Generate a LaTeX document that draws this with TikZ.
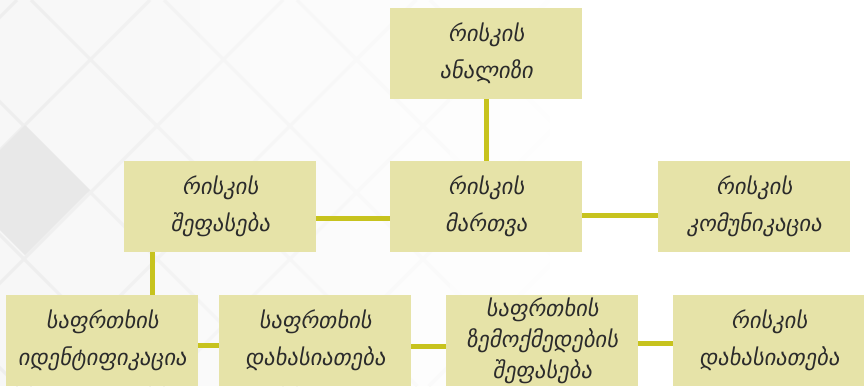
\documentclass[tikz,border=0pt]{standalone}
\usepackage{fontspec}
\newfontfamily\geo[FakeSlant=0.18]{DejaVu Sans}
\definecolor{boxfill}{HTML}{E6E3A8}
\definecolor{conn}{HTML}{C7C31E}
\definecolor{txt}{HTML}{2B2B2B}
\begin{document}
\begin{tikzpicture}[x=1pt,y=-1pt,
  box/.style={rectangle, fill=boxfill, minimum width=192pt, minimum height=91pt,
    inner sep=0pt, align=center, text=txt, font=\geo\fontsize{22.5}{37}\selectfont},
  boxthree/.style={box, font=\geo\fontsize{22.5}{31}\selectfont},
  link/.style={draw=conn, line width=5pt}]
\useasboundingbox (0,0) rectangle (864,386);
\fill[white] (0,0) rectangle (864,386);
% background lattice, fading to the right
\foreach \i in {0,...,11}{
  \pgfmathsetmacro\bgi{3.2*(1-\i/11)}
  \pgfmathsetmacro\lni{6.5*(1-\i/11)}
  \begin{scope}
    \clip (\i*50,0) rectangle ({\i*50+50.5},386);
    \fill[black!\bgi] (\i*50,0) rectangle ({\i*50+50.5},386);
    \foreach \k in {-3,...,6}{
      \draw[black!\lni, line width=3pt] ({150+133*\k},0) -- ({150+133*\k-386},386);
      \draw[black!\lni, line width=3pt] ({31+133*\k},0) -- ({31+133*\k+386},386);
    }
  \end{scope}
}
\fill[black!9] (25,125) -- (90,190) -- (25,255) -- (-40,190) -- cycle;
% boxes
\node[box] (top) at (486,53.5) {რისკის\\ანალიზი};
\node[box] (mid) at (486,206.5) {რისკის\\მართვა};
\node[box] (left) at (220,206.5) {რისკის\\შეფასება};
\node[box] (right) at (754,206.5) {რისკის\\კომუნიკაცია};
\node[box] (b1) at (102,340.5) {საფრთხის\\იდენტიფიკაცია};
\node[box] (b2) at (315,340.5) {საფრთხის\\დახასიათება};
\node[boxthree] (b3) at (542,340.5) {საფრთხის\\ზემოქმედების\\შეფასება};
\node[box] (b4) at (769,340.5) {რისკის\\დახასიათება};
% connectors
\draw[link] (top.south) -- (mid.north);
\draw[link] ([yshift=-11.5pt]left.east) -- ([yshift=-11.5pt]mid.west);
\draw[link] ([yshift=-8.5pt]mid.east) -- ([yshift=-8.5pt]right.west);
\draw[link] ([xshift=-67.5pt]left.south) -- ([xshift=-67.5pt]left.south |- b1.north);
\draw[link] ([yshift=-5pt]b1.east) -- ([yshift=-5pt]b2.west);
\draw[link] ([yshift=-5.5pt]b2.east) -- ([yshift=-5.5pt]b3.west);
\draw[link] ([yshift=-3pt]b3.east) -- ([yshift=-3pt]b4.west);
\end{tikzpicture}
\end{document}
